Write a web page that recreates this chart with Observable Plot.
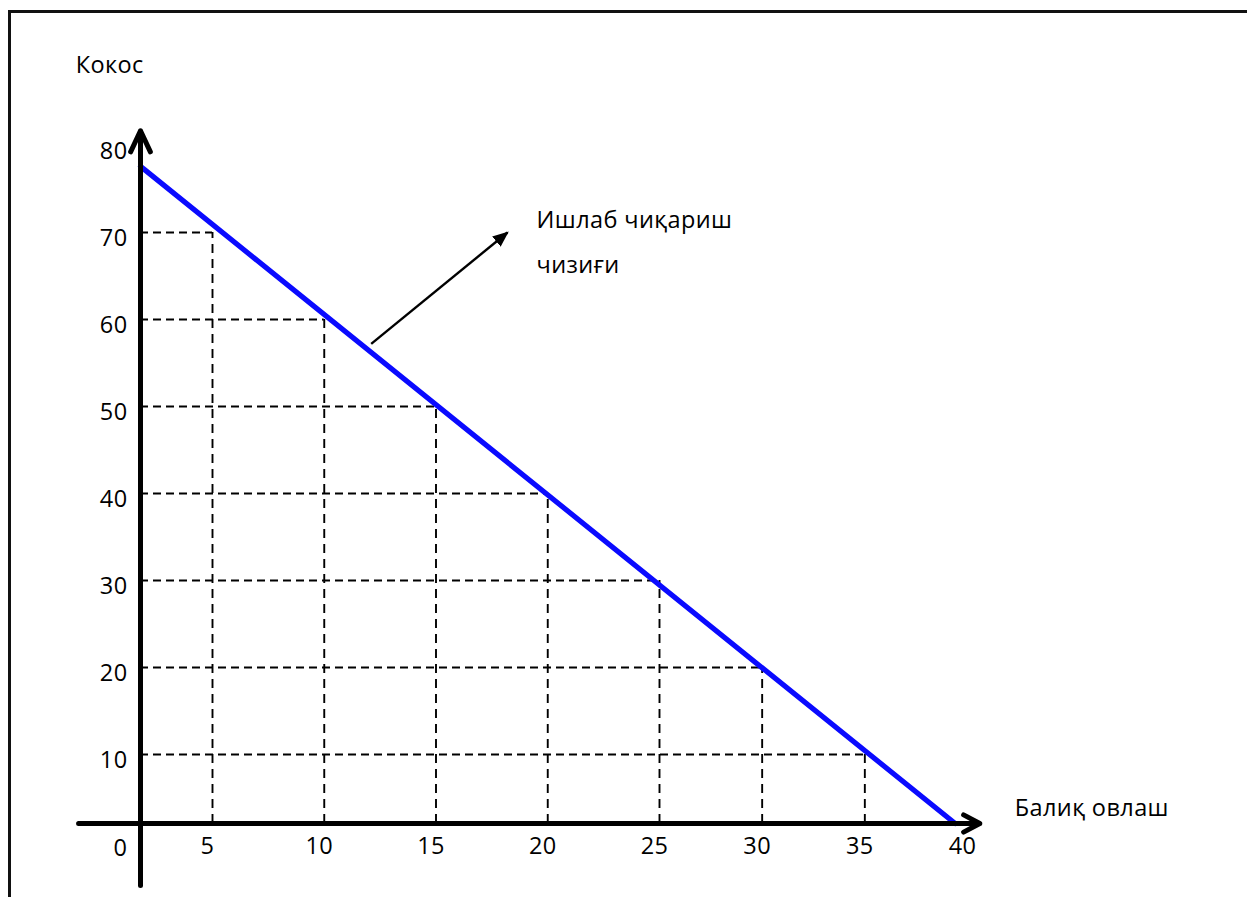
<!DOCTYPE html>
<html><head><meta charset="utf-8">
<script src="https://cdn.jsdelivr.net/npm/d3@7"></script>
<script src="https://cdn.jsdelivr.net/npm/@observablehq/plot@0.6"></script>
<style>
body{margin:0;background:#fff;}
#wrap{position:relative;width:1247px;height:897px;overflow:hidden;background:#fff;}
#frame{position:absolute;left:8px;top:10px;right:-10px;bottom:-10px;border-top:3px solid #111;border-left:3px solid #111;}
#chart{position:absolute;left:0;top:0;}
</style></head><body>
<div id="wrap"><div id="frame"></div><div id="chart"></div></div>
<script>
// Tick labels
const xTicks = [5, 10, 15, 20, 25, 30, 35, 40];
const yTicks = [10, 20, 30, 40, 50, 60, 70, 80];
const originLabel = ["0"];
// Guide points on the production line (Балиқ овлаш, Кокос)
const fishing = [5, 10, 15, 20, 25, 30, 35];
const coconuts = [70, 60, 50, 40, 30, 20, 10];
// Production possibility line end points
const lineFishing = [0, 39.4];
const lineCoconuts = [77.6, 0];
// Axis arrow extents
const xAxisExtent = [-4.3, 40.6];
const yAxisExtent = [-9, 81.7];
// Labels
const noteTexts = ["Кокос", "Балиқ овлаш", "Ишлаб чиқариш", "чизиғи"];
const noteX = [-4.5, 42.3, 19.5, 19.5];
const noteY = [89.2, 2.2, 71.4, 66.2];
// Annotation arrow (from line to note)
const pointerFrom = [12.1, 57.2];
const pointerTo = [18.2, 70];

const guides = fishing.map((x, i) => ({x, y: coconuts[i]}));
const frontier = lineFishing.map((x, i) => ({x, y: lineCoconuts[i]}));
const notes = noteTexts.map((t, i) => ({t, x: noteX[i], y: noteY[i]}));

const chart = Plot.plot({
  width: 1247,
  height: 897,
  marginLeft: 140,
  marginBottom: 74,
  marginTop: 0,
  marginRight: 0,
  style: {fontFamily: "'Open Sans', sans-serif", fontSize: "23.5px", letterSpacing: "0.4px", color: "#000", background: "transparent", overflow: "visible"},
  x: {type: "linear", domain: [0, 5, 25, 40], range: [140, 212, 659, 967], label: null},
  y: {type: "linear", domain: [0, 10, 80], range: [823, 754, 145], label: null},
  marks: [
    Plot.ruleY(guides, {y: "y", x1: 0, x2: "x", stroke: "#000", strokeWidth: 1.9, strokeDasharray: "8,5"}),
    Plot.ruleX(guides, {x: "x", y1: 0, y2: "y", stroke: "#000", strokeWidth: 1.9, strokeDasharray: "9,6"}),
    Plot.line(frontier, {x: "x", y: "y", stroke: "#0a0aff", strokeWidth: 5.2}),
    Plot.arrow([{a: xAxisExtent[0], b: xAxisExtent[1]}], {x1: "a", x2: "b", y1: 0, y2: 0, stroke: "#000", strokeWidth: 5, headLength: 5.5, headAngle: 56}),
    Plot.arrow([{a: yAxisExtent[0], b: yAxisExtent[1]}], {x1: 0, x2: 0, y1: "a", y2: "b", stroke: "#000", strokeWidth: 5, headLength: 7, headAngle: 50}),
    Plot.link([{x1: pointerFrom[0], y1: pointerFrom[1], x2: pointerTo[0], y2: pointerTo[1]}], {x1: "x1", y1: "y1", x2: "x2", y2: "y2", stroke: "#000", strokeWidth: 2.4}),
    Plot.axisX({ticks: xTicks, tickSize: 0, tickPadding: 14, anchor: "bottom", dx: -5, label: null}),
    Plot.axisY({ticks: yTicks, tickSize: 0, tickPadding: 13, anchor: "left", dy: 6, label: null}),
    Plot.text(originLabel, {x: 0, y: 0, text: d => d, dx: -20, dy: 25}),
    Plot.text(notes, {x: "x", y: "y", text: "t", textAnchor: "start", fill: "#000"})
  ]
});
document.getElementById("chart").appendChild(chart);

// filled triangle head for the pointer
const svg = d3.select(chart);
const defs = svg.append("defs");
defs.append("marker")
  .attr("id", "tri").attr("viewBox", "0 0 10 10").attr("refX", 9).attr("refY", 5)
  .attr("markerUnits", "userSpaceOnUse").attr("markerWidth", 16).attr("markerHeight", 16)
  .attr("orient", "auto")
  .append("path").attr("d", "M0,0.8L10,5L0,9.2Z").attr("fill", "#000");
svg.selectAll('g[aria-label="link"] path, g[aria-label="link"] line').attr("marker-end", "url(#tri)");
</script>
</body></html>
